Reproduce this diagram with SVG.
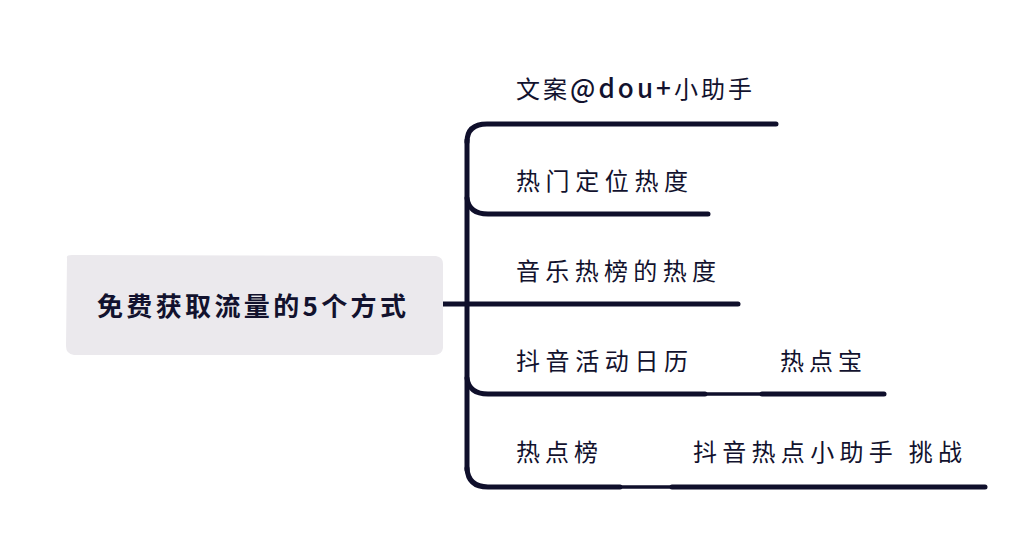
<svg xmlns="http://www.w3.org/2000/svg" width="1024" height="549" viewBox="0 0 1024 549">
<style>
.t{font-family:"Noto Sans CJK SC","Noto Sans",sans-serif;font-size:24px;fill:#12122e}
.c{font-family:"Noto Sans CJK SC","Noto Sans",sans-serif;font-size:26px;font-weight:bold;fill:#12122e}
.lat{font-size:26px;font-weight:500}
.ln{fill:none;stroke:#0f0f2b;stroke-width:5;stroke-linecap:round;stroke-linejoin:round}
.th{fill:none;stroke:#0f0f2b;stroke-width:3.5;stroke-linecap:round}
</style>
<rect width="1024" height="549" fill="#ffffff"/>
<g id="connectors">
<path class="ln" d="M443,304 L738,304"/>
<path class="ln" d="M467,140 L467,470"/>
<path class="ln" d="M467,142 Q467,124 487,124 L776,124"/>
<path class="ln" d="M467,198 Q469,214 488,214 L708,214"/>
<path class="ln" d="M467,378 Q469,394 488,394 L705,394"/>
<path class="th" d="M705,394 L762,394"/>
<path class="ln" d="M762,394 L884,394"/>
<path class="ln" d="M467,468 Q468,487 488,487 L620,487"/>
<path class="th" d="M620,487 L672,487"/>
<path class="ln" d="M672,487 L985,487"/>
</g>
<g id="root">
<path d="M67,258 Q66,255 72,255 L436,256 Q443,257 443,264 L443,348 Q442,355 434,355 L74,355 Q66,354 66,346 Z" fill="#ebe9ed"/>
<text class="c" x="97" y="316" textLength="309" lengthAdjust="spacing">免费获取流量的5个方式</text>
</g>
<g id="n1"><text class="t" x="516" y="98" textLength="236" lengthAdjust="spacing">文案<tspan class="lat">@dou+</tspan>小助手</text></g>
<g id="n2"><text class="t" x="516" y="190" textLength="172" lengthAdjust="spacing">热门定位热度</text></g>
<g id="n3"><text class="t" x="516" y="280" textLength="200" lengthAdjust="spacing">音乐热榜的热度</text></g>
<g id="n4"><text class="t" x="516" y="370" textLength="172" lengthAdjust="spacing">抖音活动日历</text></g>
<g id="n4a"><text class="t" x="780" y="370" textLength="82" lengthAdjust="spacing">热点宝</text></g>
<g id="n5"><text class="t" x="516" y="461" textLength="82" lengthAdjust="spacing">热点榜</text></g>
<g id="n5a"><text class="t" x="693" y="461" textLength="269" lengthAdjust="spacing">抖音热点小助手 挑战</text></g>
</svg>
